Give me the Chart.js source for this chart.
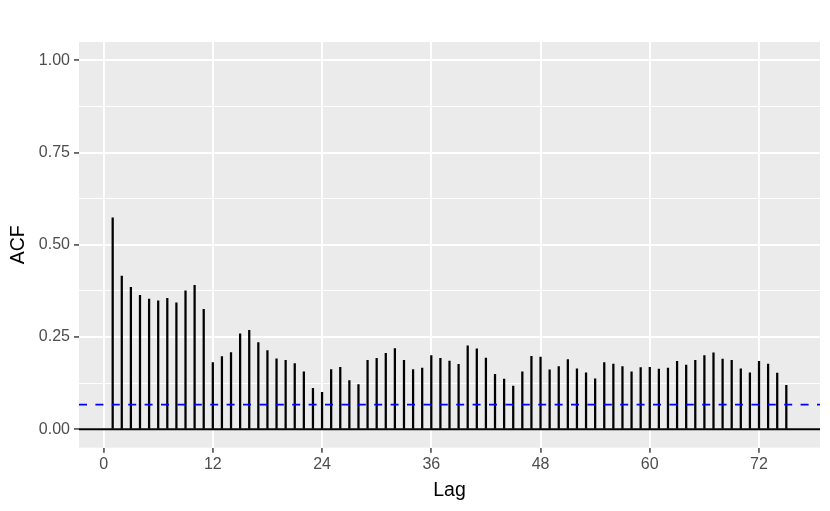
<!DOCTYPE html>
<html>
<head>
<meta charset="utf-8">
<script src="https://cdn.jsdelivr.net/npm/chart.js@4.4.1/dist/chart.umd.min.js"></script>
<style>
    body { margin: 0; background: #ffffff; }
</style>
</head>
<body>
<canvas id="acfChart" width="830" height="511"></canvas>
<script>
// ACF data
var lags = [1, 2, 3, 4, 5, 6, 7, 8, 9, 10, 11, 12, 13, 14, 15, 16, 17, 18, 19, 20,
    21, 22, 23, 24, 25, 26, 27, 28, 29, 30, 31, 32, 33, 34, 35, 36, 37, 38, 39, 40,
    41, 42, 43, 44, 45, 46, 47, 48, 49, 50, 51, 52, 53, 54, 55, 56, 57, 58, 59, 60,
    61, 62, 63, 64, 65, 66, 67, 68, 69, 70, 71, 72, 73, 74, 75];
var acfValues = [0.573, 0.415, 0.385, 0.363, 0.353, 0.348, 0.355, 0.343, 0.375, 0.390,
    0.325, 0.181, 0.197, 0.208, 0.259, 0.268, 0.235, 0.213, 0.191, 0.187,
    0.178, 0.156, 0.111, 0.100, 0.162, 0.168, 0.132, 0.121, 0.187, 0.192,
    0.206, 0.219, 0.187, 0.162, 0.166, 0.200, 0.192, 0.185, 0.176, 0.226,
    0.218, 0.193, 0.149, 0.136, 0.117, 0.156, 0.198, 0.196, 0.161, 0.170,
    0.189, 0.164, 0.153, 0.137, 0.181, 0.177, 0.170, 0.156, 0.167, 0.168,
    0.163, 0.166, 0.184, 0.174, 0.187, 0.200, 0.207, 0.190, 0.187, 0.164,
    0.153, 0.184, 0.177, 0.152, 0.119];
var ciLevel = 0.0666;
var xTicks = [0, 12, 24, 36, 48, 60, 72];
var yTicks = [0, 0.25, 0.5, 0.75, 1];
var yMinorTicks = [0.125, 0.375, 0.625, 0.875];
var xRange = [-2.7, 78.7];
var yRange = [-0.05, 1.05];

var tickFont = { family: 'Liberation Sans', size: 16 };
var titleFont = { family: 'Liberation Sans', size: 19.5 };

// grey panel like ggplot
var panelBg = {
    id: 'panelBg',
    beforeDraw: function(chart) {
        var a = chart.chartArea;
        var c = chart.ctx;
        c.save();
        c.fillStyle = '#ebebeb';
        c.fillRect(a.left, a.top, a.right - a.left, a.bottom - a.top);
        c.restore();
    }
};

function isMinor(ctx) {
    return ctx.tick && yMinorTicks.indexOf(ctx.tick.value) !== -1;
}

var ctx = document.getElementById('acfChart').getContext('2d');
var chart = new Chart(ctx, {
    type: 'bar',
    data: {
        datasets: [{
            type: 'line',
            data: [{ x: xRange[0], y: 0 }, { x: xRange[1], y: 0 }],
            borderColor: '#000000',
            borderWidth: 1.8,
            pointRadius: 0,
            order: 2
        }, {
            type: 'bar',
            data: lags.map(function(l, i) { return { x: l, y: acfValues[i] }; }),
            backgroundColor: '#000000',
            barThickness: 1.6,
            order: 1
        }, {
            type: 'line',
            data: [{ x: xRange[0], y: ciLevel }, { x: xRange[1], y: ciLevel }],
            borderColor: '#0000ff',
            borderWidth: 1.8,
            borderDash: [8, 8.4],
            pointRadius: 0,
            order: 0
        }]
    },
    options: {
        responsive: false,
        animation: false,
        layout: { padding: { top: 42, right: 10, left: 0, bottom: 0 } },
        plugins: { legend: { display: false }, tooltip: { enabled: false } },
        scales: {
            x: {
                type: 'linear',
                offset: false,
                min: xRange[0],
                max: xRange[1],
                afterBuildTicks: function(s) { s.ticks = xTicks.map(function(v) { return { value: v }; }); },
                afterFit: function(s) { s.height = 63.3; },
                grid: { offset: false, color: '#ffffff', lineWidth: 1.9, tickColor: '#333333', tickLength: 5, tickWidth: 1.4 },
                border: { display: false },
                ticks: { color: '#4d4d4d', font: tickFont, padding: 2, maxRotation: 0 },
                title: { display: true, text: 'Lag', color: '#000000', font: titleFont, padding: { top: 0, bottom: 9 } }
            },
            y: {
                min: yRange[0],
                max: yRange[1],
                afterBuildTicks: function(s) {
                    s.ticks = yTicks.concat(yMinorTicks)
                        .sort(function(a, b) { return a - b; })
                        .map(function(v) { return { value: v }; });
                },
                afterFit: function(s) { s.width = 79; },
                grid: {
                    color: '#ffffff',
                    lineWidth: function(c) { return isMinor(c) ? 1 : 1.9; },
                    tickColor: function(c) { return isMinor(c) ? 'rgba(0,0,0,0)' : '#333333'; },
                    tickLength: 5,
                    tickWidth: 1.4
                },
                border: { display: false },
                ticks: {
                    color: '#4d4d4d',
                    font: tickFont,
                    padding: 4,
                    callback: function(v) { return yMinorTicks.indexOf(v) !== -1 ? '' : v.toFixed(2); }
                },
                title: { display: true, text: 'ACF', color: '#000000', font: titleFont, padding: { top: 7, bottom: 0 } }
            }
        }
    },
    plugins: [panelBg]
});
</script>
</body>
</html>
